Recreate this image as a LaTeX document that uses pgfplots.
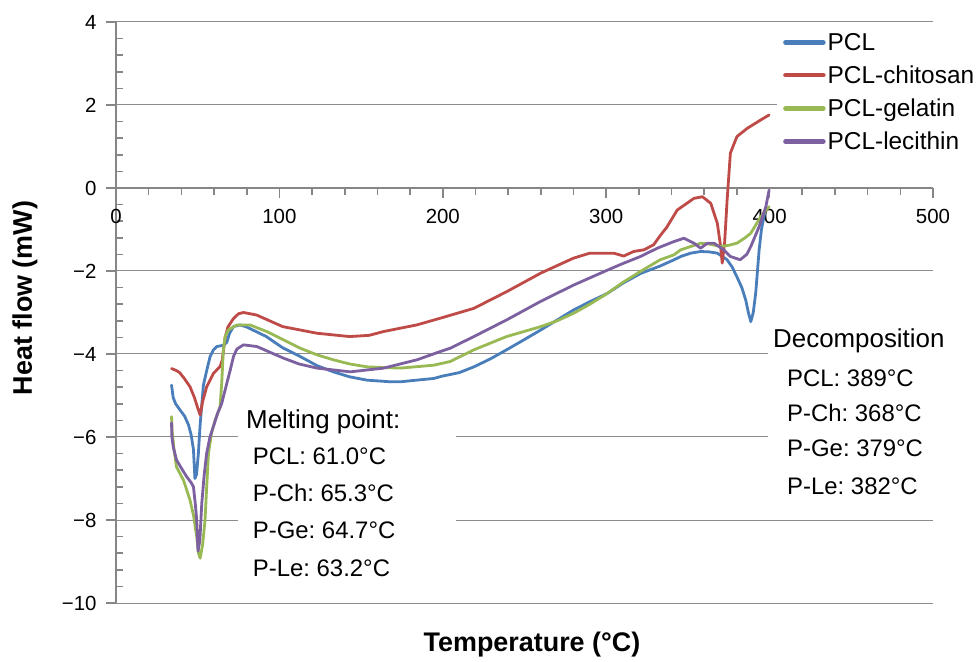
\documentclass[border=0pt]{standalone}
\usepackage{pgfplots}
\pgfplotsset{compat=1.18}
\usepackage{fontspec}
\setmainfont{Liberation Sans}
\definecolor{cblue}{HTML}{4A7EBB}
\definecolor{cred}{HTML}{BE4B48}
\definecolor{cgreen}{HTML}{98B954}
\definecolor{cpurple}{HTML}{7D60A0}
\definecolor{axgray}{HTML}{868686}
\definecolor{gridgray}{HTML}{8C8C8C}
\frenchspacing
\begin{document}
\begin{tikzpicture}
\path[use as bounding box] (-116bp,-59bp) rectangle (864bp,603bp);
\begin{axis}[
  at={(0bp,0bp)}, anchor=south west,
  scale only axis, width=817bp, height=581bp,
  xmin=0, xmax=500, ymin=-10, ymax=4,
  axis x line=middle, axis y line=left,
  hide obscured x ticks=false, hide obscured y ticks=false,
  axis line style={-, draw=axgray, line width=2.2bp},
  xtick={0,100,200,300,400,500}, xticklabels={0,100,200,300,400,500},
  ytick={-10,-8,-6,-4,-2,0,2,4}, yticklabels={−10,−8,−6,−4,−2,0,2,4},
  minor x tick num=4, minor y tick num=4,
  tick align=center,
  major tick length=10bp, minor tick length=7bp,
  every tick/.style={draw=axgray, line width=1.6bp},
  major y tick style={xshift=-5bp},
  minor y tick style={xshift=3.5bp},
  major x tick style={yshift=-5bp},
  minor x tick style={yshift=-3.5bp},
  ymajorgrids,
  grid style={draw=gridgray, line width=1bp},
  tick label style={font=\fontsize{20.5}{24}\selectfont, text=black},
  xticklabel style={anchor=north, yshift=-13bp},
  yticklabel style={anchor=east, xshift=-11bp},
  legend style={at={(0.809,0.995)}, anchor=north west, draw=none, fill=white,
    inner sep=6bp, row sep=10bp, font=\fontsize{24.5}{28}\selectfont,
    /tikz/every even column/.append style={column sep=9bp}},
  legend cell align=left,
  legend image code/.code={\draw[#1, line width=4.5bp] (0bp,0bp) -- (38bp,0bp);},
  every axis plot/.append style={line width=2.8bp, line join=round, line cap=round},
]
\addplot[cblue] coordinates {
(34,-4.75) (35,-5.05) (36.5,-5.2) (39.2,-5.35) (42,-5.5) (44.3,-5.7) (46,-5.95) (47.4,-6.3) (48.3,-7.0) (49.3,-6.9) (50.4,-6.4) (51.5,-5.7) (53.5,-4.75) (55.5,-4.4) (57.6,-4.06) (59.6,-3.9) (61.7,-3.82) (65.7,-3.79) (67.8,-3.72) (69.5,-3.5) (71.9,-3.34) (76,-3.3) (80,-3.35) (92,-3.58) (102,-3.85) (112.7,-4.06) (123,-4.28) (133,-4.43) (143,-4.55) (153.6,-4.63) (168,-4.67) (174,-4.67) (184,-4.63) (194.4,-4.59) (200,-4.53) (210,-4.45) (219,-4.31) (229,-4.12) (239,-3.9) (250,-3.65) (260,-3.42) (270,-3.18) (280,-2.94) (290,-2.74) (300.7,-2.54) (310,-2.3) (321,-2.06) (333,-1.88) (341.5,-1.73) (345.6,-1.65) (351.7,-1.57) (357.8,-1.53) (363,-1.54) (368,-1.57) (374,-1.73) (377,-1.9) (380,-2.14) (383,-2.4) (385.4,-2.7) (387,-3.0) (388.5,-3.22) (390,-3.0) (391.5,-2.53) (393.6,-1.49) (395,-1.0) (397,-0.6)
};
\addlegendentry{PCL}
\addplot[cred] coordinates {
(34,-4.35) (37,-4.4) (39,-4.45) (42,-4.6) (45.3,-4.79) (48,-5.05) (50,-5.3) (51.5,-5.47) (53,-5.15) (55.5,-4.79) (59.6,-4.47) (63.7,-4.3) (65,-4.15) (66.8,-3.6) (68.5,-3.35) (71.8,-3.15) (75,-3.03) (78,-3.0) (86,-3.06) (102,-3.34) (123,-3.5) (143,-3.58) (155,-3.55) (163.6,-3.46) (184,-3.3) (200,-3.12) (219,-2.9) (239,-2.5) (260,-2.05) (280,-1.69) (290,-1.57) (304.6,-1.57) (310.7,-1.64) (316.8,-1.53) (323,-1.49) (329,-1.37) (333,-1.15) (337,-0.95) (343.5,-0.53) (353.7,-0.25) (358.9,-0.21) (364,-0.37) (368,-0.85) (370,-1.4) (371,-1.81) (372.5,-1.3) (374,-0.29) (376,0.84) (380,1.24) (386.4,1.44) (394.6,1.64) (399.7,1.76)
};
\addlegendentry{PCL-chitosan}
\addplot[cgreen] coordinates {
(34,-5.51) (34.3,-5.83) (35.5,-6.3) (37,-6.72) (41.3,-7.04) (45.3,-7.52) (47.5,-7.9) (49.4,-8.4) (50.5,-8.8) (51.5,-8.92) (53,-8.6) (54.5,-8.0) (55.5,-7.2) (56.6,-6.39) (58.5,-5.9) (60.7,-5.59) (63.7,-5.27) (64.7,-4.7) (65.7,-3.9) (66.8,-3.58) (68.8,-3.42) (73.9,-3.3) (82,-3.3) (92.3,-3.46) (102,-3.65) (112.7,-3.86) (123,-4.02) (133,-4.14) (143,-4.24) (153.6,-4.31) (174,-4.34) (194.4,-4.27) (204.6,-4.18) (219,-3.9) (239,-3.58) (260,-3.34) (270,-3.2) (280,-3.02) (290,-2.8) (300.7,-2.54) (310,-2.28) (321,-2.01) (333,-1.73) (341.5,-1.61) (345.6,-1.49) (351.7,-1.41) (357.8,-1.33) (363,-1.35) (370,-1.41) (375,-1.38) (380,-1.33) (385,-1.2) (388.5,-1.09) (394.6,-0.69) (399.7,-0.45)
};
\addlegendentry{PCL-gelatin}
\addplot[cpurple] coordinates {
(34,-5.66) (34.2,-6.0) (35,-6.23) (37,-6.55) (40,-6.75) (43.3,-6.96) (46,-7.1) (47.4,-7.2) (48.5,-7.6) (49.4,-8.0) (50.2,-8.75) (51.3,-8.5) (52.5,-7.6) (54,-6.9) (55.5,-6.39) (57.5,-6.0) (59.6,-5.75) (62,-5.45) (64.7,-5.19) (67.8,-4.71) (69.9,-4.39) (71.9,-4.06) (74,-3.88) (78,-3.78) (86.2,-3.82) (102.5,-4.1) (112,-4.24) (123,-4.34) (143.4,-4.43) (163.8,-4.34) (184.2,-4.14) (198.5,-3.94) (204.6,-3.86) (219,-3.58) (239,-3.18) (260,-2.73) (280,-2.34) (300.7,-1.98) (310.8,-1.81) (321,-1.65) (331.3,-1.45) (341.5,-1.29) (347.6,-1.21) (353.7,-1.33) (357.8,-1.45) (361.9,-1.33) (366,-1.33) (372,-1.49) (376,-1.65) (382,-1.73) (386,-1.6) (388.5,-1.41) (393.6,-0.93) (397.7,-0.45) (399.7,-0.05)
};
\addlegendentry{PCL-lecithin}
\end{axis}
% white boxes behind annotations
\fill[white] (122bp,13bp) rectangle (340bp,203bp);
\fill[white] (652bp,98bp) rectangle (842bp,283bp);
\begin{scope}[every node/.style={anchor=base west, inner sep=0pt, font=\fontsize{24}{28}\selectfont}]
\node[font=\fontsize{26}{30}\selectfont] at (130bp,174bp) {Melting point:};
\node at (136.7bp,138bp) {PCL: 61.0°C};
\node at (136.7bp,101bp) {P-Ch: 65.3°C};
\node at (136.7bp,64bp) {P-Ge: 64.7°C};
\node at (136.7bp,27bp) {P-Le: 63.2°C};
\node[font=\fontsize{26}{30}\selectfont] at (657bp,255bp) {Decomposition};
\node at (671bp,216bp) {PCL: 389°C};
\node at (671bp,181bp) {P-Ch: 368°C};
\node at (671bp,146bp) {P-Ge: 379°C};
\node at (671bp,108bp) {P-Le: 382°C};
\end{scope}
\node[font=\bfseries\fontsize{27}{30}\selectfont] at (416bp,-42bp) {Temperature (°C)};
\node[font=\bfseries\fontsize{27}{30}\selectfont, rotate=90] at (-91bp,305bp) {Heat flow (mW)};
\end{tikzpicture}
\end{document}
